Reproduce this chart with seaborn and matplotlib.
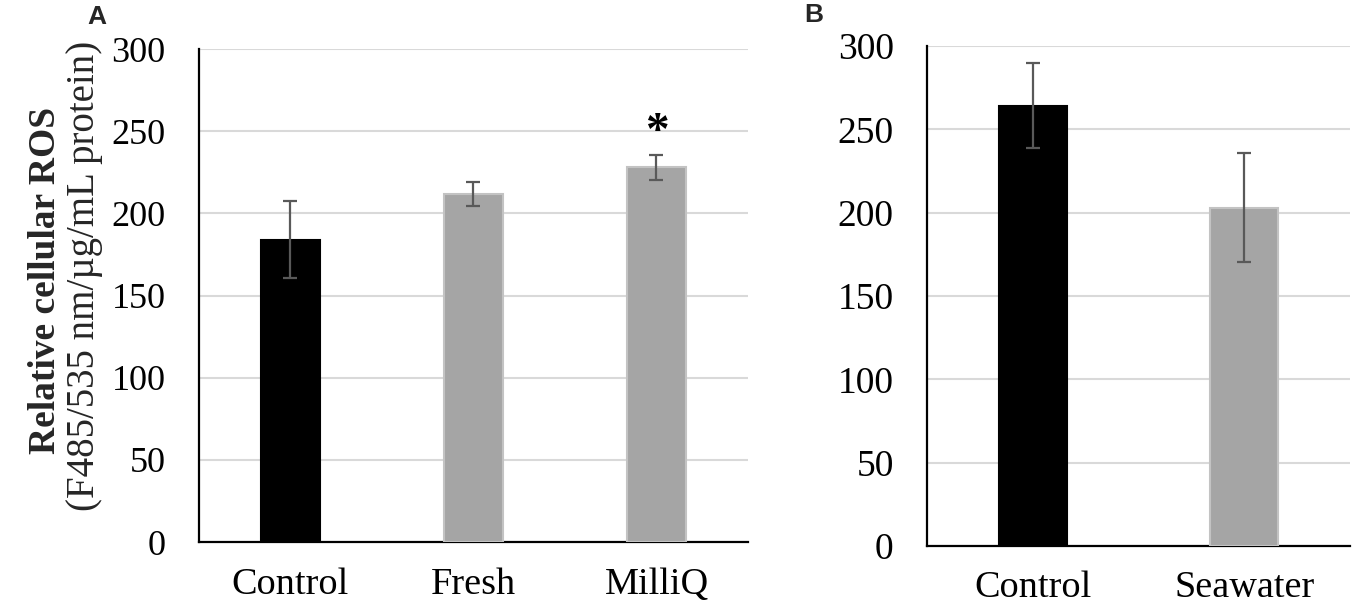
import pandas as pd
import numpy as np
import seaborn as sns
import matplotlib.pyplot as plt

# panel A
groups_a = ['Control', 'Fresh', 'MilliQ']
ros_a = [184, 212, 228]
sd_a = [23.5, 7.3, 7.7]
# panel B
groups_b = ['Control', 'Seawater']
ros_b = [264, 203]
sd_b = [25.5, 32.5]

sns.set_theme(style='white')
plt.rcParams['font.family'] = ['Liberation Serif', 'DejaVu Serif']

fig = plt.figure(figsize=(13.58, 6.13), dpi=100)
ax_a = fig.add_axes([0.1465, 0.1158, 0.4043, 0.804])
ax_b = fig.add_axes([0.6826, 0.1093, 0.3115, 0.8157])

gray = '#A5A5A5'
edge_gray = '#C3C3C3'


def draw_panel(ax, groups, vals, sds, ysize):
    df = pd.DataFrame({'group': groups, 'ros': vals})
    pal = {g: ('black' if g == 'Control' else gray) for g in groups}
    sns.barplot(data=df, x='group', y='ros', hue='group', palette=pal,
                width=0.32, errorbar=None, legend=False, ax=ax, zorder=3,
                saturation=1)
    for p, g in zip(ax.patches, groups):
        p.set_edgecolor('black' if g == 'Control' else edge_gray)
        p.set_linewidth(1.5)
    ax.errorbar(np.arange(len(groups)), vals, yerr=sds, fmt='none',
                ecolor='#595959', elinewidth=1.6, capsize=5.3, capthick=1.6,
                zorder=4)
    ax.set_ylim(0, 300)
    ax.set_xlim(-0.5, len(groups) - 0.5)
    ax.set_yticks(range(0, 301, 50))
    ax.yaxis.grid(True, color='#D9D9D9', linewidth=1.5, zorder=0)
    ax.set_axisbelow(True)
    for s in ['top', 'right']:
        ax.spines[s].set_visible(False)
    for s in ['left', 'bottom']:
        ax.spines[s].set_color('black')
        ax.spines[s].set_linewidth(1.6)
    ax.tick_params(axis='y', length=0, pad=24, labelsize=ysize, colors='black')
    ax.tick_params(axis='x', length=0, pad=18, labelsize=27.5, colors='black')
    ax.set_xlabel('')
    ax.set_ylabel('')


draw_panel(ax_a, groups_a, ros_a, sd_a, 26)
draw_panel(ax_b, groups_b, ros_b, sd_b, 27)

# significance mark
ax_a.text(2, 236, '*', ha='center', va='bottom',
          fontsize=34, fontweight='bold', color='black')

fig.text(0.0335, 0.542, 'Relative cellular ROS', rotation=90, ha='center',
         va='center', fontsize=27, fontweight='bold')
fig.text(0.0625, 0.55, '(F485/535 nm/µg/mL protein)', rotation=90,
         ha='center', va='center', fontsize=28)

fig.text(0.0714, 0.972, 'A', fontsize=19, fontweight='bold', ha='center',
         va='center', family=['Liberation Sans', 'DejaVu Sans'])
fig.text(0.5994, 0.975, 'B', fontsize=19, fontweight='bold', ha='center',
         va='center', family=['Liberation Sans', 'DejaVu Sans'])

fig.savefig('out.png', dpi=100)
